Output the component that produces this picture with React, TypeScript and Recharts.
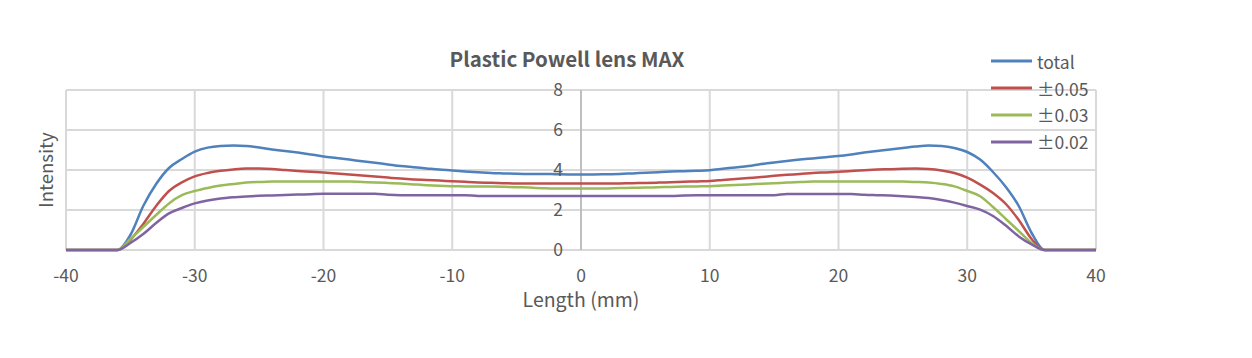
import React from 'react';
import { LineChart, Line, XAxis, YAxis, CartesianGrid, ReferenceLine, ReferenceDot } from 'recharts';

const lengthMm = [
  -40, -39, -38, -37, -36, -35, -34, -33, -32, -31, -30, -29, -28, -27, -26, -25, -24, -23, -22, -21,
  -20, -19, -18, -17, -16, -15, -14, -13, -12, -11, -10, -9, -8, -7, -6, -5, -4, -3, -2, -1,
  0, 1, 2, 3, 4, 5, 6, 7, 8, 9, 10, 11, 12, 13, 14, 15, 16, 17, 18, 19,
  20, 21, 22, 23, 24, 25, 26, 27, 28, 29, 30, 31, 32, 33, 34, 35, 36, 37, 38, 39, 40,
];

const total = [
  0, 0, 0, 0, 0,
  0.75, 2.2, 3.3, 4.1, 4.55, 4.92, 5.12, 5.2, 5.22, 5.2, 5.12, 5.03, 4.95, 4.87, 4.78,
  4.68, 4.6, 4.52, 4.44, 4.36, 4.28, 4.2, 4.14, 4.08, 4.02, 3.98, 3.93, 3.89, 3.85, 3.83,
  3.81, 3.8, 3.8, 3.79, 3.78,
  3.78,
  3.78, 3.79, 3.8, 3.83, 3.86, 3.89, 3.92, 3.94, 3.96, 3.99, 4.06, 4.13, 4.2, 4.3, 4.38,
  4.45, 4.52, 4.58, 4.64, 4.7, 4.78, 4.87, 4.95, 5.03, 5.1, 5.17, 5.22, 5.2, 5.1, 4.9,
  4.52, 3.9, 3.15, 2.2, 0.85,
  0, 0, 0, 0, 0,
];

const pm005 = [
  0, 0, 0, 0, 0,
  0.5, 1.3, 2.2, 2.95, 3.38, 3.68, 3.85, 3.96, 4.03, 4.07, 4.07, 4.05, 4.0, 3.95, 3.91,
  3.87, 3.82, 3.77, 3.72, 3.67, 3.62, 3.57, 3.53, 3.5, 3.47, 3.44, 3.41, 3.38, 3.36, 3.34,
  3.32, 3.32, 3.32, 3.32, 3.32,
  3.32,
  3.32, 3.32, 3.33, 3.34, 3.35, 3.37, 3.39, 3.41, 3.43, 3.45, 3.5, 3.55, 3.6, 3.65, 3.71,
  3.76, 3.8, 3.85, 3.88, 3.91, 3.95, 3.99, 4.02, 4.04, 4.06, 4.07, 4.05, 3.98, 3.85, 3.62,
  3.27, 2.85, 2.3, 1.5, 0.55,
  0, 0, 0, 0, 0,
];

const pm003 = [
  0, 0, 0, 0, 0,
  0.55, 1.15, 1.75, 2.33, 2.74, 2.95, 3.1, 3.22, 3.3, 3.37, 3.4, 3.42, 3.42, 3.42, 3.42,
  3.42, 3.42, 3.42, 3.4, 3.38, 3.35, 3.32, 3.28, 3.24, 3.21, 3.19, 3.18, 3.17, 3.17, 3.16,
  3.14, 3.12, 3.09, 3.07, 3.07,
  3.07,
  3.07, 3.08, 3.1, 3.11, 3.12, 3.14, 3.15, 3.17, 3.18, 3.19, 3.22, 3.25, 3.28, 3.31, 3.34,
  3.37, 3.4, 3.42, 3.42, 3.42, 3.42, 3.42, 3.42, 3.42, 3.42, 3.4, 3.37, 3.3, 3.18, 2.95,
  2.69, 2.15, 1.55, 0.95, 0.35,
  0, 0, 0, 0, 0,
];

const pm002 = [
  0, 0, 0, 0, 0,
  0.35, 0.8, 1.35, 1.83, 2.1, 2.33, 2.48, 2.58, 2.64, 2.68, 2.71, 2.73, 2.75, 2.77, 2.79,
  2.81, 2.81, 2.81, 2.81, 2.81, 2.76, 2.74, 2.74, 2.74, 2.74, 2.74, 2.74, 2.7, 2.7, 2.7,
  2.7, 2.7, 2.7, 2.7, 2.7,
  2.7,
  2.7, 2.7, 2.7, 2.7, 2.7, 2.7, 2.7, 2.73, 2.74, 2.74, 2.74, 2.74, 2.74, 2.74, 2.74,
  2.8, 2.8, 2.8, 2.8, 2.8, 2.8, 2.76, 2.74, 2.72, 2.69, 2.65, 2.6, 2.5, 2.37, 2.2,
  2.02, 1.7, 1.22, 0.68, 0.28,
  0, 0, 0, 0, 0,
];

const xTicks = [-40, -30, -20, -10, 0, 10, 20, 30, 40];
const yTicks = [0, 2, 4, 6, 8];

const seriesNames = ['total', '±0.05', '±0.03', '±0.02'];
const seriesKeys = ['total', 'pm005', 'pm003', 'pm002'];
const colors = ['#4F81BD', '#C0504D', '#9BBB59', '#8064A2'];

const FONT = '"Noto Sans CJK KR", "Noto Sans", sans-serif';
const TEXT = '#595959';
const GRID = '#D9D9D9';

const data = lengthMm.map((x, i) => ({
  x,
  total: total[i],
  pm005: pm005[i],
  pm003: pm003[i],
  pm002: pm002[i],
}));

// legend sits over the top-right corner like the Excel one
const LegendBox = () => (
  <div style={{ position: 'absolute', left: 990, top: 48, fontFamily: FONT, fontSize: 17.5, color: TEXT }}>
    {seriesNames.map((name, i) => (
      <div key={name} style={{ display: 'flex', alignItems: 'center', height: 26.8 }}>
        <svg width={44} height={6} style={{ marginRight: 3 }}>
          <line x1={1} y1={3} x2={42} y2={3} stroke={colors[i]} strokeWidth={3} />
        </svg>
        <span>{name}</span>
      </div>
    ))}
  </div>
);

export default function App() {
  return (
    <div style={{ position: 'absolute', left: 0, top: 0, width: 1252, height: 358, background: '#fff' }}>
      <LineChart
        width={1252}
        height={358}
        data={data}
        margin={{ top: 90, right: 156, bottom: 78, left: 0 }}
      >
        <text
          x={567}
          y={67}
          textAnchor="middle"
          fontFamily={FONT}
          fontSize={20.5}
          fontWeight="bold"
          fill={TEXT}
        >
          Plastic Powell lens MAX
        </text>
        <CartesianGrid stroke={GRID} strokeWidth={2} verticalValues={xTicks} horizontal={false} />
        {yTicks.map((v) => (
          <ReferenceLine key={'g' + v} y={v} stroke={GRID} strokeWidth={2} />
        ))}
        <XAxis
          dataKey="x"
          type="number"
          domain={[-40, 40]}
          ticks={xTicks}
          interval={0}
          axisLine={false}
          tickLine={false}
          tickSize={0}
          tickMargin={20}
          height={30}
          tick={{ fill: TEXT, fontSize: 17.5, fontFamily: FONT }}
          label={{ value: 'Length (mm)', position: 'bottom', offset: 13, fill: TEXT, fontSize: 19.5, fontFamily: FONT }}
        />
        <YAxis
          type="number"
          domain={[0, 8]}
          ticks={yTicks}
          width={66}
          axisLine={false}
          tickLine={false}
          tick={false}
          label={{ value: 'Intensity', angle: -90, position: 'center', dx: 13, fill: TEXT, fontSize: 18.5, fontFamily: FONT }}
        />
        <ReferenceLine x={0} stroke="#BFBFBF" strokeWidth={2} />
        {yTicks.map((v) => (
          <ReferenceDot
            key={v}
            x={0}
            y={v}
            r={0}
            fill="none"
            stroke="none"
            label={{ value: String(v), position: 'left', offset: 18, fill: TEXT, fontSize: 17.5, fontFamily: FONT }}
          />
        ))}
        {seriesKeys.map((k, i) => (
          <Line
            key={k}
            type="monotone"
            dataKey={k}
            name={seriesNames[i]}
            stroke={colors[i]}
            strokeWidth={2.5}
            dot={false}
            activeDot={false}
            isAnimationActive={false}
          />
        ))}
      </LineChart>
      <LegendBox />
    </div>
  );
}
